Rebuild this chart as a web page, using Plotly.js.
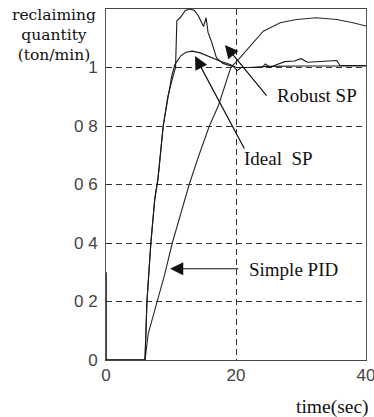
<!DOCTYPE html>
<html>
<head>
<meta charset="utf-8">
<script src="https://cdn.plot.ly/plotly-3.0.1.min.js"></script>
<style>
html,body{margin:0;padding:0;background:#fff;}
#chart{width:374px;height:417px;}
</style>
</head>
<body>
<div id="chart"></div>
<script>
// ---- data ----
const idealT = [0, 6, 6.3, 6.9, 7.5, 8.0, 8.8, 9.5, 10.1, 10.6, 11.5, 12.3, 13.3, 14.5, 15.5, 17.5, 19.1, 20.1, 22, 25, 30, 35, 40];
const idealV = [0, 0, 0.2, 0.4, 0.55, 0.62, 0.8, 0.9, 0.97, 1.01, 1.04, 1.052, 1.056, 1.05, 1.04, 1.022, 1.01, 1.0, 1.0, 1.004, 1.005, 1.005, 1.005];

const robustT = [0, 6, 6.3, 6.9, 7.5, 8.0, 8.8, 9.5, 10.2, 10.7, 10.9, 11.4, 12.2, 12.9, 13.6, 14.2, 15.0, 15.4, 15.7, 16.3, 17.0, 18.0, 19.6, 20.2, 20.8, 22.5, 24, 24.5, 25.2, 26, 27.5, 29, 30, 31, 33, 35.5, 36, 40];
const robustV = [0, 0, 0.2, 0.4, 0.55, 0.62, 0.8, 0.9, 0.96, 1.0, 1.16, 1.17, 1.195, 1.2, 1.195, 1.177, 1.14, 1.17, 1.12, 1.084, 1.033, 1.014, 1.003, 0.99, 1.0, 1.0, 1.0, 1.012, 1.0, 1.008, 1.02, 1.022, 1.03, 1.018, 1.02, 1.024, 1.007, 1.007];

const simpleT = [0, 6, 6.5, 7.8, 9.0, 10.2, 11.5, 12.8, 14.3, 15.9, 17.3, 19.2, 20.5, 22.2, 24.2, 26.8, 29.3, 32.4, 35.5, 38.0, 40];
const simpleV = [0, 0, 0.09, 0.194, 0.29, 0.4, 0.5, 0.6, 0.7, 0.8, 0.87, 1.0, 1.03, 1.075, 1.124, 1.153, 1.164, 1.17, 1.164, 1.153, 1.142];

const startMarkT = [0, 0];
const startMarkV = [0, 0.3];

const xTickVals = [0, 20, 40];
const xTickText = ['0', '20', '40'];
const yTickVals = [0, 0.2, 0.4, 0.6, 0.8, 1.0];
const yTickText = ['0', '0 2', '0 4', '0 6', '0 8', '1'];

const yTitleLines = ['reclaiming', 'quantity', '(ton/min)'];
const xTitle = 'time(sec)';
const seriesLabels = ['Robust SP', 'Ideal  SP', 'Simple PID'];

// ---- traces ----
const lineStyle = {color: '#1a1a1a', width: 1.1};
const traces = [
  {x: simpleT, y: simpleV, mode: 'lines', line: {color: '#2a2a2a', width: 1.1}, name: seriesLabels[2]},
  {x: idealT, y: idealV, mode: 'lines', line: lineStyle, name: seriesLabels[1]},
  {x: robustT, y: robustV, mode: 'lines', line: lineStyle, name: seriesLabels[0]},
  {x: startMarkT, y: startMarkV, mode: 'lines', line: {color: '#111', width: 1.6}, cliponaxis: false, hoverinfo: 'skip'}
];

const serif = 'Liberation Serif, Times New Roman, serif';
const txt = {family: serif, size: 19, color: '#111'};

const annotations = [
  // y-axis title block (top-left)
  {xref: 'paper', yref: 'paper', x: -0.2, y: 0.925, text: yTitleLines.join('<br>'), showarrow: false,
   xanchor: 'center', yanchor: 'middle', align: 'center',
   font: {family: 'DejaVu Serif, serif', size: 15.5, color: '#111'}},
  // x-axis title
  {xref: 'paper', yref: 'paper', x: 0.873, y: -0.134, text: xTitle, showarrow: false, xanchor: 'center', yanchor: 'middle', font: {family: serif, size: 19.5, color: '#111'}},
  // labels
  {x: 32.5, y: 0.906, text: seriesLabels[0], showarrow: false, xanchor: 'center', yanchor: 'middle', font: txt},
  {x: 26.6, y: 0.689, text: seriesLabels[1].replace(/ /g, '&nbsp;'), showarrow: false, xanchor: 'center', yanchor: 'middle', font: txt},
  {x: 28.9, y: 0.309, text: seriesLabels[2], showarrow: false, xanchor: 'center', yanchor: 'middle', font: txt},
  // arrows
  {x: 18.3, y: 1.077, ax: 24.9, ay: 0.899, axref: 'x', ayref: 'y', text: '', showarrow: true, arrowhead: 2, arrowsize: 2.2, arrowwidth: 1.2, arrowcolor: '#111'},
  {x: 13.7, y: 1.039, ax: 21.4, ay: 0.718, axref: 'x', ayref: 'y', text: '', showarrow: true, arrowhead: 2, arrowsize: 2.2, arrowwidth: 1.2, arrowcolor: '#111'},
  {x: 9.85, y: 0.312, ax: 20.6, ay: 0.312, axref: 'x', ayref: 'y', text: '', showarrow: true, arrowhead: 2, arrowsize: 2.2, arrowwidth: 1.2, arrowcolor: '#111'}
];

const tickFont = {family: 'Liberation Sans, Arial, sans-serif', size: 17, color: '#444'};

const layout = {
  width: 374, height: 417,
  margin: {l: 106, r: 8, t: 9, b: 57, pad: 0},
  paper_bgcolor: '#fff', plot_bgcolor: '#fff',
  showlegend: false,
  xaxis: {
    range: [0, 40], tickvals: xTickVals, ticktext: xTickText,
    showgrid: true, gridcolor: '#333', gridwidth: 1, griddash: '6px,4px',
    zeroline: false, showline: true, linecolor: '#444', linewidth: 1, mirror: true,
    ticks: '', tickfont: tickFont, ticklabeloverflow: 'allow', fixedrange: true
  },
  yaxis: {
    range: [0, 1.2], tickvals: yTickVals, ticktext: yTickText,
    showgrid: true, gridcolor: '#333', gridwidth: 1, griddash: '6px,4px',
    zeroline: false, showline: true, linecolor: '#555', linewidth: 1, mirror: true,
    ticks: '', tickfont: tickFont, ticklabelstandoff: 4, fixedrange: true
  },
  annotations: annotations
};

Plotly.newPlot('chart', traces, layout, {staticPlot: true, displayModeBar: false});
</script>
</body>
</html>
